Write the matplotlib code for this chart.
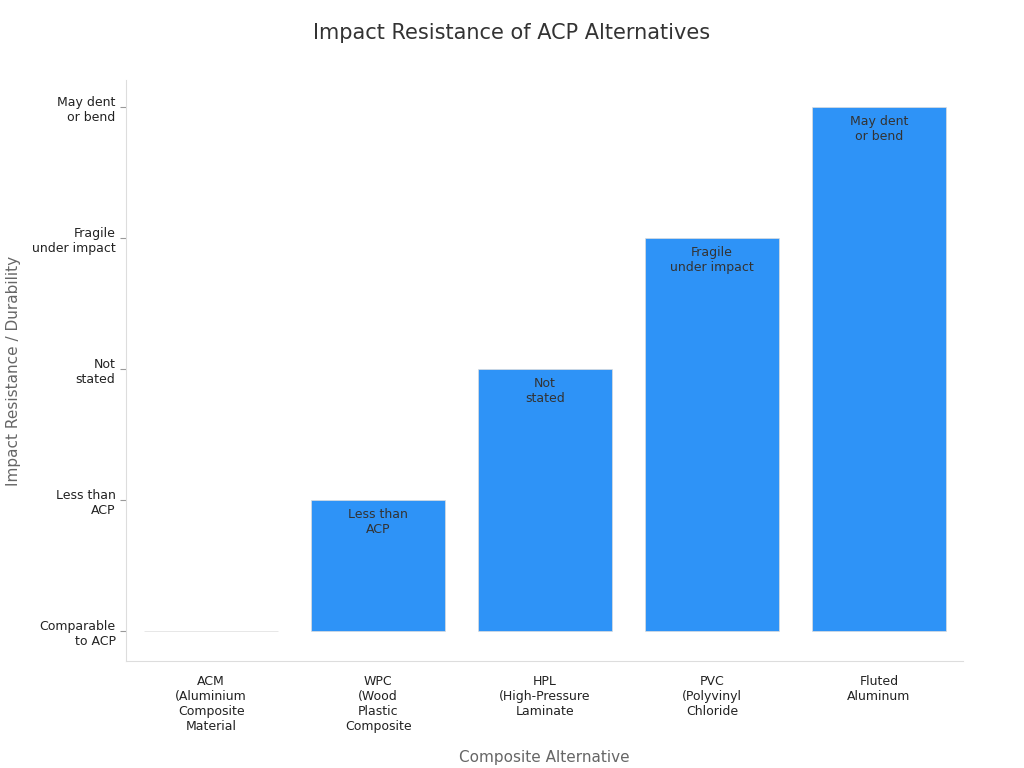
import matplotlib
matplotlib.use("Agg")
import matplotlib.pyplot as plt

categories = ["ACM\n(Aluminium\nComposite\nMaterial", "WPC\n(Wood\nPlastic\nComposite", "HPL\n(High-Pressure\nLaminate", "PVC\n(Polyvinyl\nChloride", "Fluted\nAluminum"]
values = [0, 1, 2, 3, 4]
level_labels = ["Comparable\nto ACP", "Less than\nACP", "Not\nstated", "Fragile\nunder impact", "May dent\nor bend"]

fig = plt.figure(figsize=(10.24, 7.68), dpi=100)
ax = fig.add_axes([0.123, 0.139, 0.817, 0.757])
x = list(range(len(categories)))
bars = ax.bar(x, values, width=0.8, color="#2E93F7", edgecolor="#dddddd", linewidth=0.5)
for xi, v in zip(x, values):
    if v > 0:
        ax.text(xi, v - 0.06, level_labels[v], ha="center", va="top", fontsize=9, color="#333333")
ax.set_xlim(-0.51, 4.5)
ax.set_ylim(-0.23, 4.21)
ax.set_xticks(x)
ax.set_xticklabels(categories, fontsize=9, color="#222222")
ax.set_yticks(range(5))
ax.set_yticklabels(level_labels, fontsize=9, color="#222222")
ax.tick_params(axis="x", length=0, pad=10)
ax.tick_params(axis="y", length=4, color="#999999")
for s in ["top", "right"]:
    ax.spines[s].set_visible(False)
for s in ["left", "bottom"]:
    ax.spines[s].set_color("#dddddd")
ax.set_xlabel("Composite Alternative", fontsize=11, color="#666666", labelpad=12)
ax.set_ylabel("Impact Resistance / Durability", fontsize=11, color="#666666", labelpad=8)
fig.suptitle("Impact Resistance of ACP Alternatives", fontsize=15, color="#333333", y=0.97)
fig.savefig("out.png", dpi=100)
